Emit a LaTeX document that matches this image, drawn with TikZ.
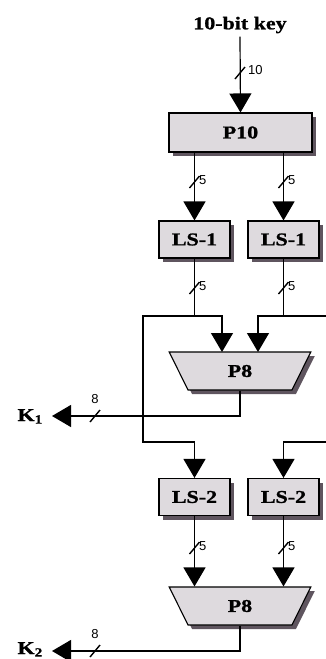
\documentclass[tikz,border=0pt]{standalone}
\usepackage{fontspec}
\setmainfont{Liberation Serif}
\newfontfamily\lblfont[FakeStretch=1.22,FakeBold=1.2]{Liberation Serif}
\newfontfamily\numfont{Liberation Sans}
\usetikzlibrary{arrows.meta,shapes.geometric,shadows}
\definecolor{boxfill}{RGB}{222,218,222}
\definecolor{shadowc}{RGB}{95,85,95}
\tikzset{
 lbl/.style={font=\lblfont\bfseries\fontsize{18}{20}\selectfont},
 num/.style={font=\numfont\fontsize{13}{14}\selectfont, inner sep=0pt},
 blk/.style={draw, line width=1.1pt, fill=boxfill, lbl, inner sep=0pt,
   drop shadow={shadow xshift=4pt, shadow yshift=-4pt, fill=shadowc, opacity=1}},
 rectblk/.style={blk, rectangle, minimum height=37pt},
 trap/.style={blk, trapezium, shape border rotate=180, trapezium left angle=70,
   trapezium right angle=70, trapezium stretches=true, minimum width=142pt, minimum height=38pt},
 wire/.style={line width=1.2pt},
 arr/.style={wire, -{Triangle[width=22pt,length=19pt]}},
 busslash/.pic={\draw[line width=1.4pt] (-5,6) -- (5,-6);}
}
\begin{document}
\begin{tikzpicture}[x=1pt,y=-1pt]
\useasboundingbox (0,0) rectangle (326,659);
% blocks
\node[lbl] (key) at (240,25) {10-bit key};
\node[rectblk, minimum width=143pt, minimum height=39pt] (p10) at (240.5,132.5) {P10};
\node[rectblk, minimum width=71pt] (ls1a) at (194.5,239.5) {LS-1};
\node[rectblk, minimum width=71pt] (ls1b) at (283.5,239.5) {LS-1};
\node[trap] (p8a) at (240,371) {P8};
\node[rectblk, minimum width=71pt] (ls2a) at (194.5,497) {LS-2};
\node[rectblk, minimum width=71pt] (ls2b) at (283.5,497) {LS-2};
\node[trap] (p8b) at (240,606) {P8};
\node[lbl, anchor=base east, inner sep=0pt] (k1) at (43,421) {K\textsubscript{1}};
\node[lbl, anchor=base east, inner sep=0pt] (k2) at (43,654) {K\textsubscript{2}};
% coordinates
\coordinate (j1) at (194.5,316);
\coordinate (j2) at (283.5,316);
\coordinate (in1a) at (222,352);
\coordinate (in1b) at (258,352);
\coordinate (c1) at (143,316);
\coordinate (c2) at (143,442);
\coordinate (e1) at (326,316);
\coordinate (e2) at (326,442);
\coordinate (k1tip) at (52,416);
\coordinate (k2tip) at (52,651);
% wires
\draw[arr] (key.south) -- (p10.north);
\draw[arr] (p10.south -| ls1a) -- (ls1a.north);
\draw[arr] (p10.south -| ls1b) -- (ls1b.north);
\draw[wire] (ls1a.south) -- (j1);
\draw[wire] (ls1b.south) -- (j2);
\draw[arr] (j1) -| (in1a);
\draw[arr] (j2) -| (in1b);
\draw[arr] (j1) -- (c1) -- (c2) -| (ls2a.north);
\draw[wire] (j2) -- (e1);
\draw[arr] (e2) -| (ls2b.north);
\draw[arr] (p8a.south) |- (k1tip);
\draw[arr] (ls2a.south) -- (ls2a.south |- p8b.north);
\draw[arr] (ls2b.south) -- (ls2b.south |- p8b.north);
\draw[arr] (p8b.south) |- (k2tip);
% bus slashes and widths
\pic at (240,73) {busslash};
\node[num, anchor=west] (w10) at (248,70) {10};
\pic at (194.5,182) {busslash};
\node[num, anchor=west] (w5a) at (199,180) {5};
\pic at (283.5,182) {busslash};
\node[num, anchor=west] (w5b) at (288,180) {5};
\pic at (194.5,288) {busslash};
\node[num, anchor=west] (w5c) at (199,286) {5};
\pic at (283.5,288) {busslash};
\node[num, anchor=west] (w5d) at (288,286) {5};
\pic at (95,416) {busslash};
\node[num] (w8a) at (95,399) {8};
\pic at (194.5,548) {busslash};
\node[num, anchor=west] (w5e) at (199,546) {5};
\pic at (283.5,548) {busslash};
\node[num, anchor=west] (w5f) at (288,546) {5};
\pic at (95,651) {busslash};
\node[num] (w8b) at (95,634) {8};
\end{tikzpicture}
\end{document}
